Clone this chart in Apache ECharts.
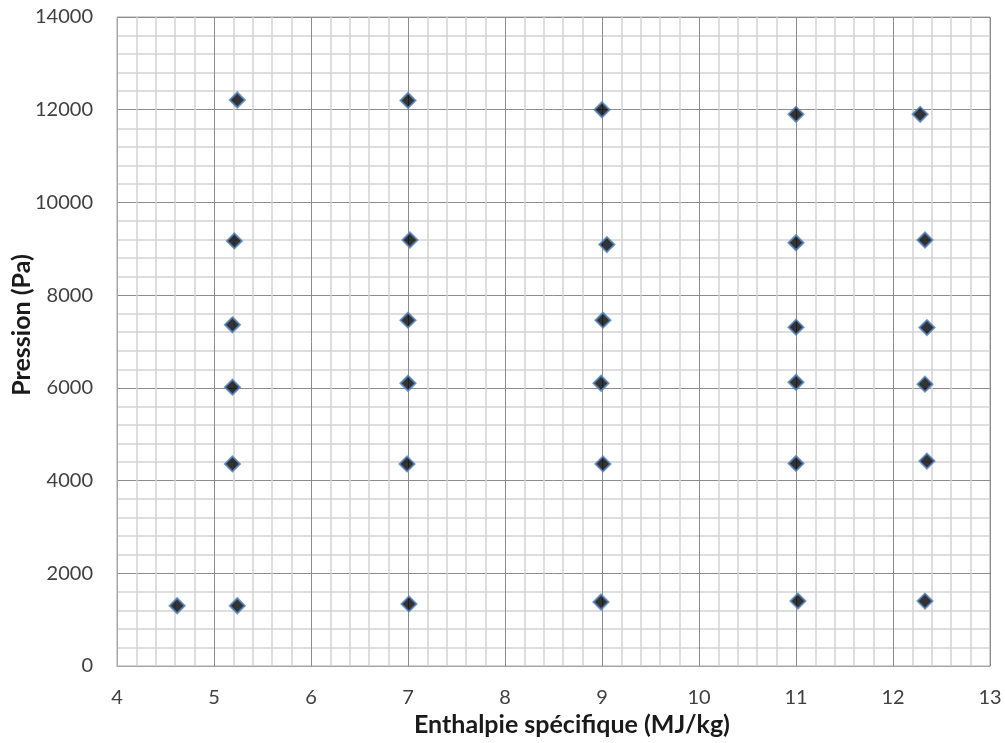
<!DOCTYPE html>
<html>
<head>
<meta charset="utf-8">
<script src="https://cdn.jsdelivr.net/npm/echarts@6/dist/echarts.min.js"></script>
<style>
html,body{margin:0;padding:0;background:#fff;}
#c{width:1005px;height:743px;}
</style>
</head>
<body>
<div id="c"></div>
<script>
// Data
const enthalpie = [4.62, 5.24, 5.19, 5.19, 5.19, 5.21, 5.24,
                   7.01, 6.99, 7.00, 7.00, 7.02, 7.00,
                   8.99, 9.01, 8.99, 9.01, 9.05, 9.00,
                   11.02, 11.00, 11.00, 11.00, 11.00, 11.00,
                   12.33, 12.35, 12.33, 12.35, 12.33, 12.28];
const pression  = [1300, 1300, 4360, 6015, 7360, 9170, 12210,
                   1340, 4360, 6100, 7460, 9190, 12200,
                   1380, 4360, 6100, 7460, 9090, 12000,
                   1400, 4370, 6120, 7310, 9130, 11900,
                   1400, 4420, 6080, 7300, 9190, 11900];
const xTitle = 'Enthalpie spécifique (MJ/kg)';
const yTitle = 'Pression (Pa)';

const points = enthalpie.map((x, i) => [x, pression[i]]);
const fontFam = 'Lato, "Open Sans", sans-serif';

const chart = echarts.init(document.getElementById('c'), null, {renderer: 'canvas'});
chart.setOption({
  animation: false,
  backgroundColor: '#ffffff',
  grid: {left: 117, right: 15, top: 17, bottom: 77, containLabel: false,
         outerBoundsMode: 'none',
         show: true, borderColor: '#a6a6a6', borderWidth: 1},
  xAxis: {
    type: 'value', min: 4, max: 13, interval: 1,
    name: xTitle, nameLocation: 'middle', nameGap: 46, nameMoveOverlap: false,
    nameTextStyle: {fontFamily: fontFam, fontSize: 25, lineHeight: 25, fontWeight: 'bold', color: '#1a1a1a',
                    padding: [0, 0, 0, 37]},
    axisLine: {show: true, lineStyle: {color: '#a6a6a6', width: 1}},
    axisTick: {show: false},
    minorTick: {show: false, splitNumber: 5},
    axisLabel: {fontFamily: fontFam, fontSize: 20, color: '#404040', margin: 22},
    splitLine: {show: true, lineStyle: {color: '#8c8c8c', width: 1}},
    minorSplitLine: {show: true, lineStyle: {color: '#d4d4d4', width: 1.5}}
  },
  yAxis: {
    type: 'value', min: 0, max: 14000, interval: 2000,
    name: yTitle, nameLocation: 'middle', nameGap: 83, nameRotate: 90, nameMoveOverlap: false,
    nameTextStyle: {fontFamily: fontFam, fontSize: 25, lineHeight: 25, fontWeight: 'bold', color: '#1a1a1a',
                    padding: [0, 0, 0, 33]},
    axisLine: {show: true, lineStyle: {color: '#a6a6a6', width: 1}},
    axisTick: {show: false},
    minorTick: {show: false, splitNumber: 5},
    axisLabel: {fontFamily: fontFam, fontSize: 20, color: '#404040', margin: 24,
                formatter: v => String(v)},
    splitLine: {show: true, lineStyle: {color: '#8c8c8c', width: 1}},
    minorSplitLine: {show: true, lineStyle: {color: '#d4d4d4', width: 1.5}}
  },
  series: [{
    type: 'scatter',
    data: points,
    symbol: 'diamond',
    symbolSize: 15,
    itemStyle: {color: '#000000', borderColor: '#4f81bd', borderWidth: 2}
  }]
});
</script>
</body>
</html>
